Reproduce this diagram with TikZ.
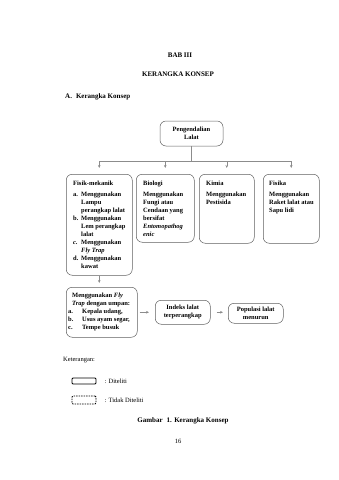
\documentclass[tikz,border=0pt]{standalone}
\usepackage{fontspec}
\setmainfont{Liberation Serif}
\usetikzlibrary{positioning,arrows.meta}
\definecolor{bLine}{HTML}{606060}
\definecolor{cLine}{HTML}{8C8C8C}
\newcommand{\itemlbl}[2][8pt]{\makebox[#1][l]{#2}}
\newcommand{\itemgap}[1][8pt]{\hspace*{#1}}

\begin{document}
\begin{tikzpicture}[x=1pt,y=-1pt,>=Stealth,
      every node/.style={font=\fontsize{6.5}{8}\selectfont\bfseries, inner sep=1pt},
      plain/.style={font=\fontsize{6.5}{8}\selectfont},
      concept/.style={draw=bLine, rounded corners=6pt, anchor=north west, line width=0.5pt},
      inbox/.style={align=left},
      arrow/.style={-{Stealth[length=3pt,width=2.6pt]}, cLine, line width=0.5pt}]
      \useasboundingbox (0,0) rectangle (339,480);

      % headings
      \node[font=\fontsize{7}{8}\selectfont\bfseries] (bab) at (180,55) {BAB III};
      \node[font=\fontsize{7}{8}\selectfont\bfseries] (judul) at (178,74) {KERANGKA KONSEP};
      \node[font=\fontsize{7}{8}\selectfont\bfseries, anchor=west] (sub) at (64,97) {A.\hspace{4pt}Kerangka Konsep};

      % root
      \node[concept, anchor=center, minimum width=63pt, minimum height=25pt, align=center] (peng) at (191.5,133.5)
        {Pengendalian\\Lalat};
      \coordinate (bus) at (192,161);

      % four ways of control
      \node[concept, minimum width=66pt, minimum height=101pt] (fisik) at (66,174) {};
      \node[concept, minimum width=58pt, minimum height=68pt] (bio) at (136,174) {};
      \node[concept, minimum width=55pt, minimum height=69pt] (kimia) at (199,174) {};
      \node[concept, minimum width=56pt, minimum height=69pt] (fisika) at (263,174) {};

      \node[inbox, below right=6pt and 6pt of fisik.north west] (fisiktxt)
        {Fisik-mekanik\\[3pt]
         \itemlbl{a.}Menggunakan\\
         \itemgap Lampu\\
         \itemgap perangkap lalat\\
         \itemlbl{b.}Menggunakan\\
         \itemgap Lem perangkap\\
         \itemgap lalat\\
         \itemlbl{\textit{c.}}Menggunakan\\
         \itemgap\textit{Fly Trap}\\
         \itemlbl{d.}Menggunakan\\
         \itemgap kawat};
      \node[inbox, below right=6pt and 6pt of bio.north west] (biotxt)
        {Biologi\\[3pt]
         Menggunakan\\
         Fungi atau\\
         Cendaan yang\\
         bersifat\\
         \textit{Entomopathog}\\
         \textit{enic}};
      \node[inbox, below right=6pt and 6pt of kimia.north west] (kimiatxt)
        {Kimia\\[3pt]
         Menggunakan\\
         Pestisida};
      \node[inbox, below right=6pt and 5pt of fisika.north west] (fisikatxt)
        {Fisika\\[3pt]
         Menggunakan\\
         Raket lalat atau\\
         Sapu lidi};

      % bottom chain
      \node[concept, minimum width=71pt, minimum height=50pt] (fly) at (66,287) {};
      \node[inbox, below right=5pt and 1pt of fly.north west] (flytxt)
        {\itemgap[4pt]Menggunakan \textit{Fly}\\
         \itemgap[4pt]\textit{Trap} dengan umpan:\\
         \itemlbl[14pt]{a.}Kepala udang,\\
         \itemlbl[14pt]{b.}Usus ayam segar,\\
         \itemlbl[14pt]{c.}Tempe busuk};
      \node[concept, minimum width=55pt, minimum height=24pt, align=center] (indeks) at (155,300)
        {Indeks lalat\\terperangkap};
      \node[concept, minimum width=55pt, minimum height=20pt, align=center] (populasi) at (228,303)
        {Populasi lalat\\menurun};

      % connectors
      \draw[cLine, line width=0.5pt] (peng.south) -- (peng.south |- bus);
      \draw[cLine, line width=0.5pt] (fisik.north |- bus) -- (fisika.north |- bus);
      \foreach \b in {fisik,bio,kimia,fisika}
        \draw[arrow, shorten >=6pt] (\b.north |- bus) -- (\b.north);
      \draw[arrow, shorten >=4pt] (fisik.south) -- (fisik.south |- fly.north);
      \draw[arrow, shorten <=2pt, shorten >=6pt] (fly.east |- indeks.west) -- (indeks.west);
      \draw[arrow, shorten <=6pt, shorten >=5pt] (indeks.east) -- (populasi.west |- indeks.east);

      % legend
      \node[plain, anchor=west] (ket) at (62,360) {Keterangan:};
      \node[draw=black, line width=0.9pt, rounded corners=1pt, minimum width=24pt, minimum height=6pt] (solidkey) at (84,381) {};
      \node[plain, anchor=west, right=7pt of solidkey] (diteliti) {: Diteliti};
      \node[draw=black, line width=0.8pt, dash pattern=on 1.5pt off 1pt, rounded corners=1pt, minimum width=24pt, minimum height=8pt] (dashkey) at (84,400) {};
      \node[plain, anchor=west, right=7pt of dashkey] (tidak) {: Tidak Diteliti};

      \node[font=\fontsize{7}{8}\selectfont\bfseries] (gambar) at (183,421) {Gambar\hspace{4pt}1. Kerangka Konsep};
      \node[plain] (hal) at (178,441) {16};
    \end{tikzpicture}
\end{document}
